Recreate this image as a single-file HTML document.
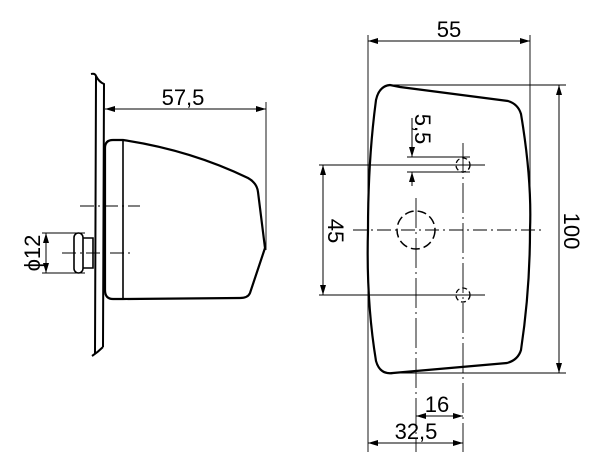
<!DOCTYPE html>
<html><head><style>
html,body{margin:0;padding:0;background:#fff;width:600px;height:462px;overflow:hidden}
svg{display:block}
text{font-family:"Liberation Sans",sans-serif;font-size:22px;fill:#000}
</style></head><body>
<svg width="600" height="462" viewBox="0 0 600 462" xmlns="http://www.w3.org/2000/svg">
<defs>
<marker id="a" viewBox="0 0 10 6" refX="10" refY="3" markerWidth="11" markerHeight="6" orient="auto-start-reverse" markerUnits="userSpaceOnUse"><path d="M0,0 L10,3 L0,6z" fill="#000"/></marker>
</defs>
<g fill="none" stroke="#000">
<!-- LEFT VIEW -->
<path d="M91,74 Q95,73 96,76 L95,354 M96,76 Q99,82 104,84 L103,347 M92,356 Q98,352 103,347" stroke-width="2"/>
<path d="M105,290 L105,148 Q105,140 113,140 L123,140 Q190,150 248,178 Q257,183 258,192 L265,248 L250,293 Q248,298 240,298 L123,299 L113,299 Q105,299 105,290 Z" stroke-width="2.2"/>
<line x1="123" y1="140" x2="123" y2="299" stroke-width="1.6"/>
<line x1="80" y1="206" x2="140" y2="206" stroke-width="1" stroke-dasharray="14,4,2,4"/>
<line x1="62" y1="253" x2="132" y2="253" stroke-width="1" stroke-dasharray="14,4,2,4"/>
<rect x="74" y="233" width="9" height="40" rx="4.5" stroke-width="1.6"/>
<path d="M83,238 L93,238 L93,268 L83,268" stroke-width="1.6"/>
<line x1="42" y1="233" x2="85" y2="233" stroke-width="0.9"/>
<line x1="42" y1="273" x2="85" y2="273" stroke-width="0.9"/>
<line x1="46" y1="233" x2="46" y2="273" stroke-width="1" marker-start="url(#a)" marker-end="url(#a)"/>
<line x1="105" y1="109" x2="266" y2="109" stroke-width="1" marker-start="url(#a)" marker-end="url(#a)"/>
<line x1="266" y1="102" x2="266" y2="250" stroke-width="0.9"/>

<!-- RIGHT VIEW -->
<path d="M376,100 Q379,86 390,85 L400,87 L508,101 Q518,104 521,114 Q532,180 530,230 Q530,290 521,350 Q518,360 507,363 L393,373 Q380,375 376,361 Q366,300 368,230 Q368,160 376,100 Z" stroke-width="2.2"/>
<line x1="368" y1="35" x2="368" y2="452" stroke-width="0.9"/>
<line x1="530" y1="35" x2="530" y2="232" stroke-width="0.9"/>
<line x1="368" y1="41" x2="530" y2="41" stroke-width="1" marker-start="url(#a)" marker-end="url(#a)"/>
<line x1="388" y1="85" x2="566" y2="85" stroke-width="0.9"/>
<line x1="392" y1="373" x2="566" y2="373" stroke-width="0.9"/>
<line x1="559" y1="85" x2="559" y2="373" stroke-width="1" marker-start="url(#a)" marker-end="url(#a)"/>
<line x1="319" y1="165" x2="485" y2="165" stroke-width="0.9"/>
<line x1="319" y1="295" x2="485" y2="295" stroke-width="0.9"/>
<line x1="323" y1="165" x2="323" y2="295" stroke-width="1" marker-start="url(#a)" marker-end="url(#a)"/>
<line x1="353" y1="230" x2="545" y2="230" stroke-width="0.9" stroke-dasharray="14,4,2,4"/>
<line x1="416" y1="198" x2="416" y2="452" stroke-width="0.9" stroke-dasharray="30,4,2,4"/>
<line x1="463" y1="143" x2="463" y2="452" stroke-width="0.9" stroke-dasharray="30,4,2,4"/>
<circle cx="416" cy="230" r="19" stroke-width="1.5" stroke-dasharray="9,4"/>
<circle cx="463" cy="165" r="7" stroke-width="1.3" stroke-dasharray="5,3"/>
<circle cx="463" cy="295" r="7" stroke-width="1.3" stroke-dasharray="5,3"/>
<line x1="407" y1="157" x2="470" y2="157" stroke-width="0.9"/>
<line x1="407" y1="172" x2="470" y2="172" stroke-width="0.9"/>
<line x1="412" y1="118" x2="412" y2="157" stroke-width="1" marker-end="url(#a)"/>
<line x1="412" y1="186" x2="412" y2="172" stroke-width="1" marker-end="url(#a)"/>
<line x1="416" y1="416" x2="463" y2="416" stroke-width="1" marker-start="url(#a)" marker-end="url(#a)"/>
<line x1="368" y1="443" x2="463" y2="443" stroke-width="1" marker-start="url(#a)" marker-end="url(#a)"/>
</g>
<text x="183" y="105" text-anchor="middle">57,5</text>
<text x="0" y="0" text-anchor="middle" transform="translate(40,253) rotate(-90)">ϕ12</text>
<text x="449" y="37" text-anchor="middle">55</text>
<text x="0" y="0" text-anchor="middle" transform="translate(564,231) rotate(90)">100</text>
<text x="0" y="0" text-anchor="middle" transform="translate(328,231) rotate(90)">45</text>
<text x="0" y="0" text-anchor="middle" transform="translate(415,129) rotate(90)">5,5</text>
<text x="437" y="412" text-anchor="middle">16</text>
<text x="416" y="439" text-anchor="middle">32,5</text>
</svg>
</body></html>
